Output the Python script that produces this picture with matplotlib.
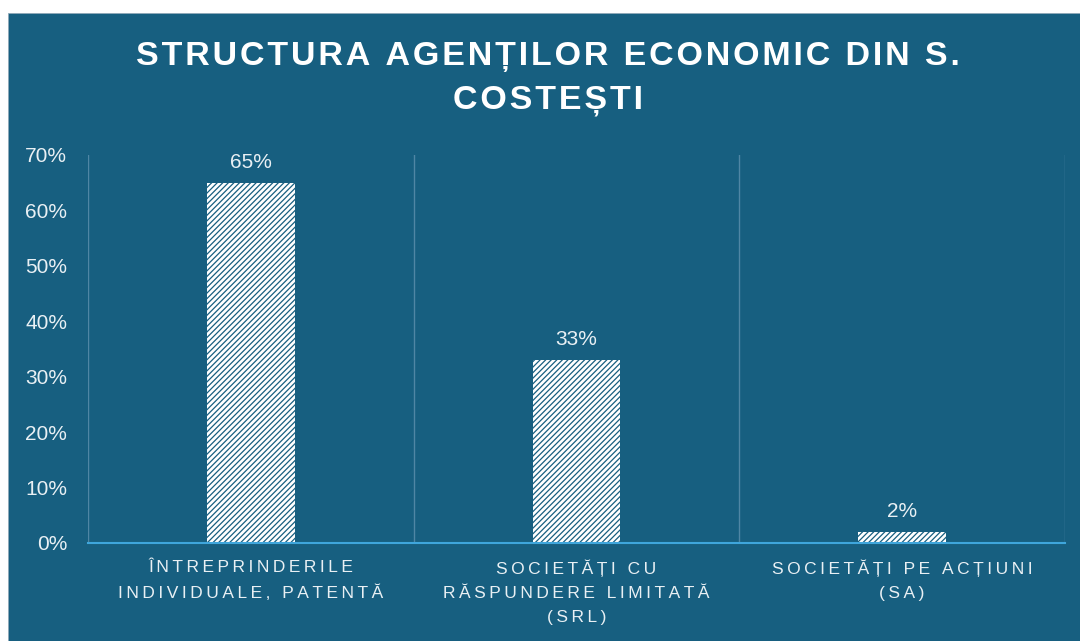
import matplotlib
matplotlib.use("Agg")
import matplotlib.pyplot as plt
from matplotlib.patches import Rectangle
from matplotlib.ticker import PercentFormatter

# -----------------------------
# Data
# -----------------------------
categories = [
    "ÎNTREPRINDERILE\nINDIVIDUALE, PATENTĂ",
    "SOCIETĂȚI CU\nRĂSPUNDERE LIMITATĂ\n(SRL)",
    "SOCIETĂȚI PE ACȚIUNI\n(SA)",
]
shares = [0.65, 0.33, 0.02]
value_labels = ["65%", "33%", "2%"]
title_lines = ["STRUCTURA AGENȚILOR ECONOMIC DIN S.", "COSTEȘTI"]

# -----------------------------
# Style
# -----------------------------
BG = "#175f80"
TEXT = "#e9f0f4"
GRID = "#4f86a4"
AXIS = "#3fa6dc"
FONT = ["Liberation Sans", "DejaVu Sans"]

plt.rcParams["font.family"] = FONT
plt.rcParams["hatch.linewidth"] = 0.9
plt.rcParams["hatch.color"] = BG


def spaced(s, gap="\u2009"):
    # fake letter spacing with thin spaces between characters
    return "\n".join(gap.join(line) for line in s.split("\n"))


fig = plt.figure(figsize=(10.8, 6.41), dpi=100, facecolor="white")
fig.patches.append(Rectangle((8 / 1080, 0), 1, 1 - 13 / 641, transform=fig.transFigure,
                             facecolor=BG, edgecolor="#8fa9b8", linewidth=0.6, zorder=-1))

ax = fig.add_axes([88 / 1080, 1 - 543 / 641, (1065 - 88) / 1080, (543 - 155) / 641])
ax.set_facecolor("none")

x = list(range(len(categories)))
bars = ax.bar(x, shares, width=0.27, color="white", edgecolor=BG, linewidth=0,
              hatch="//////", zorder=3)

for xi, v, lab in zip(x, shares, value_labels):
    ax.text(xi, v + 0.02, lab, ha="center", va="bottom", color=TEXT, fontsize=15)

ax.set_xlim(-0.5, len(categories) - 0.5)
ax.set_ylim(0, 0.70)
ax.set_yticks([i / 10 for i in range(8)])
ax.yaxis.set_major_formatter(PercentFormatter(1.0, decimals=0))
ax.tick_params(axis="y", length=0, pad=15, labelsize=15, labelcolor=TEXT)

ax.set_xticks(x)
ax.set_xticklabels([spaced(c) for c in categories], color=TEXT, fontsize=12.5, linespacing=1.75)
ax.tick_params(axis="x", length=0, pad=12)

# vertical separators between categories
for b in [-0.5, 0.5, 1.5, 2.5]:
    ax.axvline(b, color=GRID, linewidth=1.0, zorder=1)

for side in ["top", "right", "left"]:
    ax.spines[side].set_visible(False)
ax.spines["bottom"].set_color(AXIS)
ax.spines["bottom"].set_linewidth(1.5)
ax.spines["bottom"].set_zorder(4)

for line, yc in zip(title_lines, [57, 101]):
    fig.text(548 / 1080, 1 - yc / 641, spaced(line, "\u200a"), ha="center", va="center",
             color="white", fontsize=24.5, fontweight="bold")

fig.savefig("out.png", dpi=100, facecolor="white")
plt.close(fig)
